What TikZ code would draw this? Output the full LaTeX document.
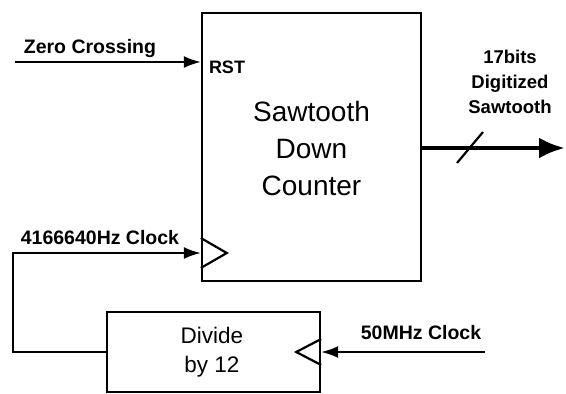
\documentclass[tikz,border=0pt]{standalone}
\usepackage{fontspec}
\setmainfont{Liberation Sans}
\usetikzlibrary{arrows.meta,calc}
\begin{document}
\begin{tikzpicture}[x=1pt,y=-1pt,line width=2pt,
  blk/.style={draw,line width=2.4pt,inner sep=0pt},
  lbl/.style={font=\bfseries\fontsize{19.5}{22}\selectfont,inner sep=0pt},
  sig/.style={line width=2pt,-{Latex[length=17pt,width=12pt]}},
  clk/.style={line width=2.2pt,line join=miter}]
\useasboundingbox (0,0) rectangle (566,394);
% blocks
\node[blk,minimum width=219pt,minimum height=268pt] (main) at (311.5,147) {};
\node[font=\fontsize{28}{37}\selectfont,align=center] (mt) at (311.5,148) {Sawtooth\\Down\\Counter};
\node[blk,minimum width=213pt,minimum height=80pt] (div) at (213.5,352) {};
\node[font=\fontsize{22.5}{29}\selectfont,align=center] (dt) at (212,352) {Divide\\by 12};
% zero crossing
\coordinate (zc) at (15,62);
\draw[sig] (zc) -- (zc -| main.west);
\node[lbl] (zcl) at (90,48) {Zero Crossing};
\node[lbl,font=\bfseries\fontsize{18}{20}\selectfont,anchor=west] (rst) at (208,67) {RST};
% clock into counter
\coordinate (cky) at (0,253);
\coordinate (lp) at (13,352);
\draw[sig] (div.west) -- (lp) |- (main.west |- cky);
\draw[clk] ($(main.west |- cky)+(0,-15)$) -- ($(main.west |- cky)+(26,0)$) -- ($(main.west |- cky)+(0,15)$);
\node[lbl] (ckl) at (100,238) {4166640Hz Clock};
% 50 MHz clock
\coordinate (fifty) at (485,352);
\draw[sig] (fifty) -- (div.east);
\draw[clk] ($(div.east)+(0,-13)$) -- ($(div.east)+(-25,0)$) -- ($(div.east)+(0,13)$);
\node[lbl] (fl) at (421,333) {50MHz Clock};
% output
\coordinate (outy) at (0,148);
\coordinate (outend) at (565,148);
\draw[line width=4.5pt,-{Latex[length=26pt,width=21pt]}] (main.east |- outy) -- (outend);
\coordinate (sl) at (470,148);
\draw[line width=2.2pt] ($(sl)+(-13,15)$) -- ($(sl)+(13,-16)$);
\node[lbl,font=\bfseries\fontsize{18.5}{25}\selectfont,align=center] (ol) at (510,82) {17bits\\Digitized\\Sawtooth};
\end{tikzpicture}
\end{document}
